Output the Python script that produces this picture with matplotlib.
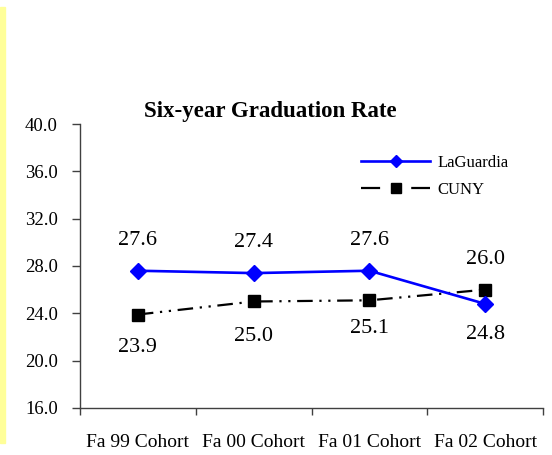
"""Six-year graduation rate: LaGuardia vs CUNY, Fa 99 – Fa 02 cohorts."""
import matplotlib
matplotlib.use("Agg")
import matplotlib.pyplot as plt
from matplotlib.lines import Line2D
from matplotlib.patches import Rectangle
from matplotlib.ticker import FixedLocator, FormatStrFormatter, NullFormatter

matplotlib.rc("font", family=["Liberation Serif", "DejaVu Serif"])

COHORTS = ["Fa 99 Cohort", "Fa 00 Cohort", "Fa 01 Cohort", "Fa 02 Cohort"]
LAGUARDIA = [27.6, 27.4, 27.6, 24.8]
CUNY = [23.9, 25.0, 25.1, 26.0]
Y_TICKS = [16.0, 20.0, 24.0, 28.0, 32.0, 36.0, 40.0]

# label placement (points, + above / - below)
_LAG_DY = [22, 22, 22, -22]
_CUNY_DY = [-24, -25, -20, 22]

_DPI = 100
_BLUE = "#0000FF"
_CUNY_DASH = (0, (7, 3, 1, 3, 1, 3))

fig = plt.figure(figsize=(5.52, 4.55), dpi=_DPI)

# yellow strip at left edge
fig.patches.append(Rectangle((0, 12 / 455), 5 / 552, 436 / 455,
                             transform=fig.transFigure, color="#FFFF99", zorder=0))

ax = fig.add_axes([80 / 552, 1 - 408 / 455, 463 / 552, 284 / 455])

xs = [i + 0.5 for i in range(len(COHORTS))]
ax.plot(xs, LAGUARDIA, color=_BLUE, lw=1.9, marker="D", ms=8.5, mec=_BLUE, mfc=_BLUE,
        label="LaGuardia", zorder=3)
ax.plot(xs, CUNY, color="black", lw=1.6, linestyle=_CUNY_DASH, marker="s", ms=8,
        mec="black", mfc="black", label="CUNY", zorder=2)

for x, v, dy in zip(xs, LAGUARDIA, _LAG_DY):
    ax.annotate(f"{v:.1f}", (x, v), xytext=(0, dy), textcoords="offset points",
                ha="center", va="center", fontsize=16)
for x, v, dy in zip(xs, CUNY, _CUNY_DY):
    ax.annotate(f"{v:.1f}", (x, v), xytext=(0, dy), textcoords="offset points",
                ha="center", va="center", fontsize=16)

ax.set_xlim(0, len(COHORTS))
ax.set_ylim(16, 40)
ax.set_yticks(Y_TICKS)
ax.yaxis.set_major_formatter(FormatStrFormatter("%.1f"))
ax.tick_params(axis="y", length=6, width=1, direction="out", labelsize=13.5, pad=10,
               color="#404040")

ax.xaxis.set_major_locator(FixedLocator(range(len(COHORTS) + 1)))
ax.xaxis.set_major_formatter(NullFormatter())
ax.xaxis.set_minor_locator(FixedLocator(xs))
ax.set_xticklabels(COHORTS, minor=True)
ax.tick_params(axis="x", which="major", length=5, width=1, direction="out", color="#404040")
ax.tick_params(axis="x", which="minor", length=0, labelsize=14, pad=19)

for side in ("top", "right"):
    ax.spines[side].set_visible(False)
for side in ("left", "bottom"):
    ax.spines[side].set_color("#404040")
    ax.spines[side].set_linewidth(1)

fig.text(270 / 552, 1 - 112 / 455, "Six-year Graduation Rate", ha="center", va="center",
         fontsize=16.5, fontweight="bold")

handles = [
    Line2D([], [], color=_BLUE, lw=1.9, marker="D", ms=6, mfc=_BLUE, mec=_BLUE),
    Line2D([], [], color="black", lw=1.6, linestyle=(0, (8.6, 14)), marker="s", ms=7,
           mfc="black", mec="black"),
]
ax.legend(handles, ["LaGuardia", "CUNY"], loc="upper left",
          bbox_to_anchor=(361 / 552, 1 - 155 / 455), bbox_transform=fig.transFigure,
          frameon=False, fontsize=12, handlelength=4.15, handletextpad=0.42,
          labelspacing=0.65, borderpad=0, borderaxespad=0)

fig.savefig("out.png", dpi=_DPI)
